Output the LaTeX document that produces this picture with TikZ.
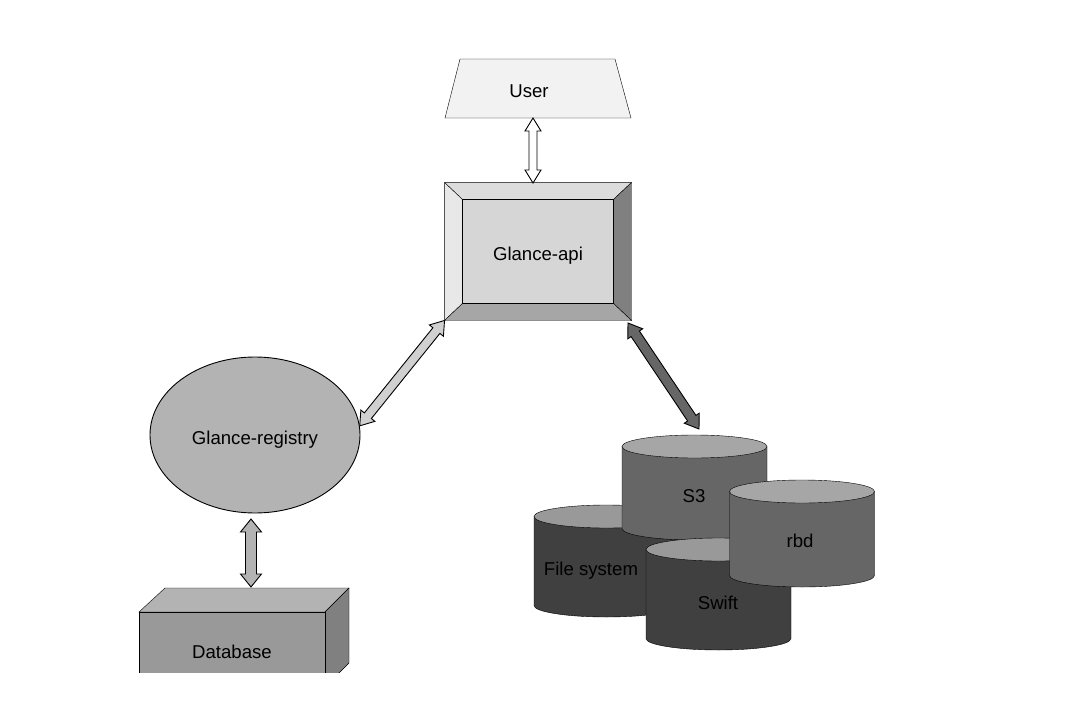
\documentclass[tikz,border=0pt]{standalone}
\usepackage{fontspec}
\setmainfont{Liberation Sans}
\usetikzlibrary{calc,shapes.geometric,backgrounds}

\definecolor{userfill}{HTML}{F2F2F2}
\definecolor{apiface}{HTML}{D6D6D6}
\definecolor{apitop}{HTML}{DCDCDC}
\definecolor{apileft}{HTML}{E8E8E8}
\definecolor{apiright}{HTML}{808080}
\definecolor{apibottom}{HTML}{A6A6A6}
\definecolor{regfill}{HTML}{B3B3B3}
\definecolor{dbfront}{HTML}{999999}
\definecolor{dbtopface}{HTML}{B3B3B3}
\definecolor{dbside}{HTML}{808080}
\definecolor{arrowlight}{HTML}{D0D0D0}
\definecolor{arrowdark}{HTML}{666666}
\definecolor{drumlight}{HTML}{666666}
\definecolor{drumlighttop}{HTML}{A6A6A6}
\definecolor{drumdark}{HTML}{404040}
\definecolor{drumdarktop}{HTML}{999999}

% fill, shaft half width, head half width, from, to
\newcommand{\dblarrow}[5]{%
  \path ($(#4)!13pt!(#5)$) coordinate (ha) ($(#5)!13pt!(#4)$) coordinate (hb);
  \filldraw[fill=#1] (#4) -- ($(ha)!#3pt!90:(#5)$) -- ($(ha)!#2pt!90:(#5)$)
    -- ($(hb)!#2pt!-90:(#4)$) -- ($(hb)!#3pt!-90:(#4)$) -- (#5)
    -- ($(hb)!#3pt!90:(#4)$) -- ($(hb)!#2pt!90:(#4)$)
    -- ($(ha)!#2pt!-90:(#5)$) -- ($(ha)!#3pt!-90:(#5)$) -- cycle;}

% centre x, top y, bottom y, side colour, top colour
\newcommand{\drum}[5]{%
  \filldraw[fill=#4] (#1-72.5,#2) -- (#1-72.5,#3)
    arc[start angle=180,end angle=0,x radius=72.5,y radius=11.5] -- (#1+72.5,#2) -- cycle;
  \filldraw[fill=#5] (#1,#2) ellipse[x radius=72.5,y radius=11.5];}

\begin{document}
\begin{tikzpicture}
  [x=1pt,y=-1pt,line width=0.9pt,
   every node/.style={font=\fontsize{18.6}{22}\selectfont,inner sep=0pt,
     text height=18.3pt,text depth=0pt}]
  \useasboundingbox (0,0) rectangle (1090,701);

  \node[minimum width=186,minimum height=59] (user) at (529,88.5) {User};
  \node[minimum width=186,minimum height=137] (api) at (538,251.5) {Glance-api};
  \node[ellipse,draw,fill=regfill,minimum width=210,minimum height=156] (registry) at (255,435) {Glance-registry};
  \node[minimum width=186,minimum height=75] (db) at (232,649.5) {Database};
  \node (fs) at (591,566) {File system};
  \node (sthree) at (694,493) {S3};
  \node (swift) at (718,600) {Swift};
  \node (rbd) at (800,538) {rbd};

  \coordinate (userbot) at (533,118);
  \coordinate (apitop) at (533,183);
  \coordinate (apise) at (628,323);
  \coordinate (regbot) at (251,519);
  \coordinate (dbtop) at (251,587);
  \coordinate (sthreetop) at (699,429);

  \begin{scope}[on background layer]
    \fill[white] (0,0) rectangle (1090,701);
    % user
    \filldraw[fill=userfill] (460,59) -- (615,59) -- (631,118) -- (445,118) -- cycle;
    % bevelled api box
    \filldraw[fill=apitop] (api.north west) -- (api.north east) -- ($(api.north east)+(-18,17)$) -- ($(api.north west)+(18,17)$) -- cycle;
    \filldraw[fill=apileft] (api.north west) -- ($(api.north west)+(18,17)$) -- ($(api.south west)+(18,-17)$) -- (api.south west) -- cycle;
    \filldraw[fill=apiright] (api.north east) -- (api.south east) -- ($(api.south east)+(-18,-17)$) -- ($(api.north east)+(-18,17)$) -- cycle;
    \filldraw[fill=apibottom] (api.south west) -- ($(api.south west)+(18,-17)$) -- ($(api.south east)+(-18,-17)$) -- (api.south east) -- cycle;
    \filldraw[fill=apiface] ($(api.north west)+(18,17)$) rectangle ($(api.south east)+(-18,-17)$);
    % database box, cut at the bottom
    \begin{scope}
      \clip (0,0) rectangle (1090,672);
      \filldraw[fill=dbtopface] (139,612) -- (165,588) -- (349,588) -- (325,612) -- cycle;
      \filldraw[fill=dbside] (325,612) -- (349,588) -- (349,663) -- (325,687) -- cycle;
      \filldraw[fill=dbfront] (139,612) rectangle (325,687);
    \end{scope}
    % stores
    \drum{606.5}{516.5}{605.5}{drumdark}{drumdarktop}
    \drum{694.5}{446.5}{528.5}{drumlight}{drumlighttop}
    \drum{718.5}{549.5}{638.5}{drumdark}{drumdarktop}
    \drum{802}{491.5}{575.5}{drumlight}{drumlighttop}
  \end{scope}

  \foreach \from/\to/\col/\w/\h in {userbot/apitop/white/4/8,
      registry.5/api.south west/arrowlight/4.5/9,
      regbot/dbtop/regfill/5.5/10.5,
      apise/sthreetop/arrowdark/5/9}
    \dblarrow{\col}{\w}{\h}{\from}{\to};

\end{tikzpicture}
\end{document}
